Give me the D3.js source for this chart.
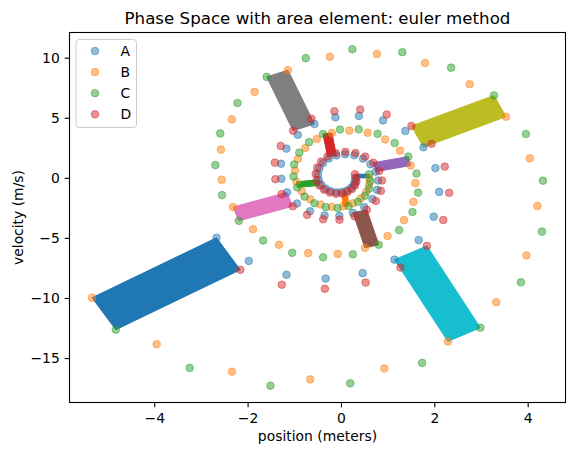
<!DOCTYPE html>
<html><head><meta charset="utf-8">
<script src="https://cdn.jsdelivr.net/npm/d3@7"></script>
<style>body{margin:0;background:#fff} text{font-family:"DejaVu Sans",sans-serif;fill:#000}</style>
</head><body><svg id="c" width="574" height="455"></svg>
<script>
// ---- data (Euler trajectories of the four corners of the area element) ----
const seriesNames = ["A", "B", "C", "D"];
const Ax = [0.3, 0.3, 0.271, 0.212, 0.126, 0.020, -0.098, -0.219, -0.329, -0.419, -0.476, -0.492, -0.462, -0.383, -0.259, -0.097, 0.090, 0.286, 0.474, 0.633, 0.746, 0.798, 0.776, 0.675, 0.499, 0.257, -0.034, -0.351, -0.664, -0.943, -1.156, -1.278, -1.285, -1.168, -0.925, -0.567, -0.119, 0.385, 0.901, 1.379, 1.768, 2.023, 2.104, 1.987, 1.664, 1.146, 0.465, -0.328, -1.167, -1.974, -2.666];
const Av = [0, -0.294, -0.588, -0.853, -1.061, -1.185, -1.205, -1.109, -0.894, -0.572, -0.161, 0.305, 0.788, 1.240, 1.615, 1.869, 1.964, 1.876, 1.596, 1.132, 0.511, -0.220, -1.002, -1.762, -2.424, -2.913, -3.165, -3.131, -2.787, -2.136, -1.212, -0.079, 1.173, 2.432, 3.577, 4.484, 5.040, 5.156, 4.779, 3.896, 2.545, 0.812, -1.170, -3.232, -5.179, -6.809, -7.932, -8.388, -8.066, -6.922, -4.988];
const Bx = [0.6, 0.6, 0.541, 0.424, 0.253, 0.041, -0.196, -0.437, -0.659, -0.838, -0.952, -0.984, -0.923, -0.766, -0.518, -0.195, 0.179, 0.572, 0.947, 1.266, 1.493, 1.595, 1.551, 1.351, 0.998, 0.514, -0.069, -0.702, -1.328, -1.885, -2.313, -2.555, -2.571, -2.336, -1.850, -1.135, -0.238, 0.770, 1.801, 2.757, 3.536, 4.045, 4.208, 3.974, 3.327, 2.292, 0.930, -0.657, -2.334, -3.948, -5.332];
const Bv = [0, -0.588, -1.176, -1.706, -2.122, -2.369, -2.409, -2.217, -1.789, -1.143, -0.322, 0.611, 1.575, 2.480, 3.230, 3.738, 3.928, 3.753, 3.192, 2.264, 1.023, -0.440, -2.003, -3.523, -4.847, -5.826, -6.329, -6.262, -5.574, -4.273, -2.425, -0.159, 2.345, 4.865, 7.155, 8.967, 10.079, 10.312, 9.557, 7.792, 5.090, 1.624, -2.340, -6.464, -10.358, -13.619, -15.865, -16.776, -16.132, -13.845, -9.976];
const Cx = [0.6, 0.63, 0.601, 0.511, 0.361, 0.162, -0.073, -0.324, -0.568, -0.779, -0.936, -1.015, -1.004, -0.892, -0.683, -0.385, -0.021, 0.380, 0.784, 1.151, 1.441, 1.618, 1.653, 1.531, 1.246, 0.811, 0.254, -0.382, -1.044, -1.667, -2.189, -2.547, -2.691, -2.585, -2.215, -1.592, -0.752, 0.244, 1.314, 2.360, 3.277, 3.962, 4.327, 4.304, 3.856, 2.986, 1.739, 0.199, -1.511, -3.241, -4.823];
const Cv = [0.3, -0.288, -0.905, -1.495, -1.995, -2.349, -2.508, -2.436, -2.118, -1.562, -0.798, 0.119, 1.114, 2.097, 2.971, 3.640, 4.018, 4.039, 3.666, 2.897, 1.769, 0.358, -1.228, -2.848, -4.348, -5.569, -6.364, -6.613, -6.238, -5.215, -3.581, -1.436, 1.060, 3.697, 6.230, 8.400, 9.960, 10.697, 10.458, 9.171, 6.858, 3.647, -0.236, -4.477, -8.694, -12.473, -15.400, -17.104, -17.299, -15.818, -12.642];
const Dx = [0.3, 0.33, 0.331, 0.299, 0.235, 0.141, 0.025, -0.105, -0.238, -0.361, -0.460, -0.523, -0.542, -0.509, -0.424, -0.288, -0.111, 0.095, 0.311, 0.518, 0.694, 0.820, 0.878, 0.855, 0.747, 0.554, 0.289, -0.031, -0.380, -0.725, -1.033, -1.269, -1.405, -1.416, -1.290, -1.025, -0.633, -0.141, 0.413, 0.981, 1.509, 1.940, 2.223, 2.317, 2.192, 1.841, 1.274, 0.528, -0.344, -1.267, -2.157];
const Dv = [0.3, 0.006, -0.317, -0.641, -0.934, -1.164, -1.303, -1.327, -1.224, -0.990, -0.637, -0.187, 0.326, 0.857, 1.356, 1.772, 2.054, 2.162, 2.070, 1.765, 1.258, 0.578, -0.226, -1.086, -1.924, -2.656, -3.199, -3.482, -3.451, -3.079, -2.369, -1.357, -0.113, 1.264, 2.652, 3.917, 4.921, 5.541, 5.679, 5.275, 4.313, 2.835, 0.934, -1.245, -3.515, -5.664, -7.467, -8.716, -9.233, -8.896, -7.654];
const polygonSteps = [0, 5, 10, 15, 20, 25, 30, 35, 40, 45, 50];
const xTicks = [-4, -2, 0, 2, 4];
const yTicks = [-15, -10, -5, 0, 5, 10];
const titleText = "Phase Space with area element: euler method";
const xLabel = "position (meters)";
const yLabel = "velocity (m/s)";

// ---- layout ----
const tab10 = ["#1f77b4","#ff7f0e","#2ca02c","#d62728","#9467bd","#8c564b","#e377c2","#7f7f7f","#bcbd22","#17becf"];
const L = 69.5, R = 565.5, T = 32.5, B = 402.5;
const series = [
  {name: seriesNames[0], xs: Ax, vs: Av},
  {name: seriesNames[1], xs: Bx, vs: Bv},
  {name: seriesNames[2], xs: Cx, vs: Cv},
  {name: seriesNames[3], xs: Dx, vs: Dv}
];
const allX = [].concat(Ax, Bx, Cx, Dx), allV = [].concat(Av, Bv, Cv, Dv);
const [x0, x1] = d3.extent(allX), [v0, v1] = d3.extent(allV);
const px = (x1 - x0) * 0.05, pv = (v1 - v0) * 0.05;
const x = d3.scaleLinear().domain([x0 - px, x1 + px]).range([L, R]);
const y = d3.scaleLinear().domain([v0 - pv, v1 + pv]).range([B, T]);

const svg = d3.select("#c");
svg.append("rect").attr("width", 574).attr("height", 455).attr("fill", "#fff");

// polygons (area element every 5 steps)
const gPoly = svg.append("g");
polygonSteps.forEach((s, i) => {
  const pts = series.map(sr => [x(sr.xs[s]), y(sr.vs[s])]);
  gPoly.append("path")
    .attr("d", d3.line()(pts) + "Z")
    .attr("fill", tab10[i % 10])
    .attr("stroke", tab10[i % 10])
    .attr("stroke-width", 1)
    .attr("stroke-linejoin", "miter");
});

// points
series.forEach((sr, k) => {
  svg.append("g").selectAll("circle").data(sr.xs.map((d, n) => [d, sr.vs[n]])).join("circle")
    .attr("cx", d => x(d[0])).attr("cy", d => y(d[1])).attr("r", 3.8)
    .attr("fill", tab10[k]).attr("fill-opacity", 0.5)
    .attr("stroke", tab10[k]).attr("stroke-opacity", 0.5).attr("stroke-width", 1);
});

// axes
const fmt = d => d < 0 ? "\u2212" + Math.abs(d) : String(d);
const gx = svg.append("g").attr("transform", `translate(0,${B})`)
  .call(d3.axisBottom(x).tickValues(xTicks).tickFormat(fmt).tickSize(4.86).tickPadding(5.6));
const gy = svg.append("g").attr("transform", `translate(${L},0)`)
  .call(d3.axisLeft(y).tickValues(yTicks).tickFormat(fmt).tickSize(4.86).tickPadding(4.9));
[gx, gy].forEach(g => {
  g.select(".domain").remove();
  g.selectAll("line").attr("stroke", "#000").attr("stroke-width", 1.1);
  g.selectAll("text").attr("font-size", "13.9px").attr("font-family", "DejaVu Sans").attr("fill", "#000");
});
svg.append("rect").attr("x", L).attr("y", T).attr("width", R - L).attr("height", B - T)
  .attr("fill", "none").attr("stroke", "#000").attr("stroke-width", 1.1);

// labels
svg.append("text").attr("x", (L + R) / 2).attr("y", 24).attr("text-anchor", "middle")
  .attr("font-size", "16.67px").text(titleText);
svg.append("text").attr("x", (L + R) / 2).attr("y", 441).attr("text-anchor", "middle")
  .attr("font-size", "13.9px").text(xLabel);
svg.append("text").attr("transform", `translate(23,${(T + B) / 2}) rotate(-90)`).attr("text-anchor", "middle")
  .attr("font-size", "13.9px").text(yLabel);

// legend
const lg = svg.append("g");
lg.append("rect").attr("x", 76).attr("y", 39.5).attr("width", 60.5).attr("height", 88)
  .attr("rx", 3).attr("fill", "#fff").attr("fill-opacity", 0.8)
  .attr("stroke", "#cccccc").attr("stroke-width", 1);
series.forEach((sr, k) => {
  const cy = 51 + k * 21.1;
  lg.append("circle").attr("cx", 95).attr("cy", cy).attr("r", 3.8)
    .attr("fill", tab10[k]).attr("fill-opacity", 0.5)
    .attr("stroke", tab10[k]).attr("stroke-opacity", 0.5).attr("stroke-width", 1);
  lg.append("text").attr("x", 120.5).attr("y", cy + 5).attr("font-size", "13.9px").text(sr.name);
});
</script></body></html>
